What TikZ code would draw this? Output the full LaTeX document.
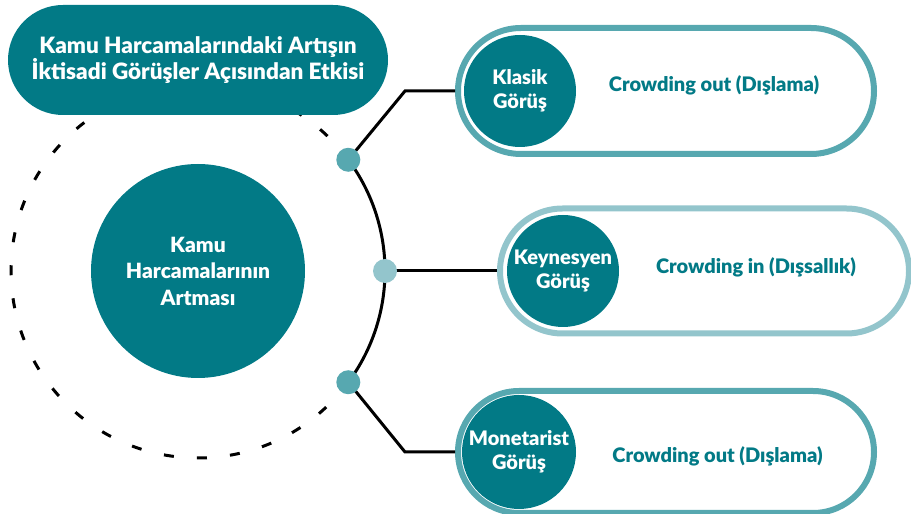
\documentclass[tikz,border=0pt]{standalone}
\usepackage{fontspec}
\setmainfont{Lato}[BoldFont={Lato Black}]
\usetikzlibrary{calc}
\definecolor{tealD}{RGB}{2,122,134}
\definecolor{tealM}{RGB}{87,168,176}
\definecolor{tealL}{RGB}{147,197,204}
\begin{document}
\begin{tikzpicture}[x=1pt,y=1pt,
  bigcirc/.style={circle,fill=tealD,text=white,inner sep=0pt,align=center,
    font=\fontsize{21}{26.5}\selectfont\bfseries},
  viewcirc/.style={circle,fill=tealD,text=white,inner sep=0pt,align=center,
    font=\fontsize{20}{23.5}\selectfont\bfseries},
  pillbox/.style={rectangle,draw,line width=6pt,fill=white,inner sep=0pt},
  pilltext/.style={text=tealD,anchor=base,font=\fontsize{20}{24}\selectfont\bfseries},
  conn/.style={line width=3pt,black},
  ringdot/.style={circle,inner sep=0pt,minimum size=24pt},
  dashring/.style={line width=3pt,black,dash pattern=on 10pt off 23.16pt}
]
\useasboundingbox (0,0) rectangle (911,514);
\clip (0,0) rectangle (911,514);
\coordinate (ctr) at (198,243);
% ring
\draw[dashring] ($(ctr)+(46.17:187)$) arc[start angle=46.17,end angle=313.3,radius=187];
\draw[conn] ($(ctr)+(-36.5:187)$) arc[start angle=-36.5,end angle=36.5,radius=187];
% pills
\node[pillbox,draw=tealM,minimum width=416,minimum height=126,rounded corners=63pt] (p1) at (666,423) {};
\node[pillbox,draw=tealL,minimum width=409,minimum height=125,rounded corners=62.5pt] (p2) at (704.5,243) {};
\node[pillbox,draw=tealM,minimum width=416,minimum height=122,rounded corners=61pt] (p3) at (666,62) {};
% dots
\node[ringdot] (d1) at ($(ctr)+(36.5:187)$) {};
\node[ringdot] (d2) at ($(ctr)+(0:187)$) {};
\node[ringdot] (d3) at ($(ctr)+(-36.5:187)$) {};
\coordinate (k1) at (405,423);
\coordinate (k3) at (405,62);
\draw[conn] (d1.center) -- (k1) -- (p1.west);
\draw[conn] (d2.center) -- (p2.west);
\draw[conn] (d3.center) -- (k3) -- (p3.west);
\fill[tealM] (d1) circle[radius=12];
\fill[tealL] (d2) circle[radius=12];
\fill[tealM] (d3) circle[radius=12];
% view circles
\node[viewcirc,minimum size=112pt] (c1) at (520,423) {Klasik\\Görüş};
\node[viewcirc,minimum size=112pt] (c2) at (563,243) {Keynesyen\\Görüş};
\node[viewcirc,minimum size=114pt] (c3) at (519,62) {Monetarist\\Görüş};
\node[pilltext] (t1) at (714,422.5) {Crowding out (Dışlama)};
\node[pilltext] (t2) at (756,240) {Crowding in (Dışsallık)};
\node[pilltext] (t3) at (717.5,51) {Crowding out (Dışlama)};
% title
\node[rectangle,fill=tealD,text=white,minimum width=380,minimum height=110,rounded corners=55pt,
  align=center,inner sep=0pt,font=\fontsize{22.5}{25.5}\selectfont\bfseries] (title) at (198,454)
  {Kamu Harcamalarındaki Artışın\\İktisadi Görüşler Açısından Etkisi};
% center circle
\node[bigcirc,minimum size=214pt] (center) at (ctr) {Kamu\\Harcamalarının\\Artması};
\end{tikzpicture}
\end{document}
